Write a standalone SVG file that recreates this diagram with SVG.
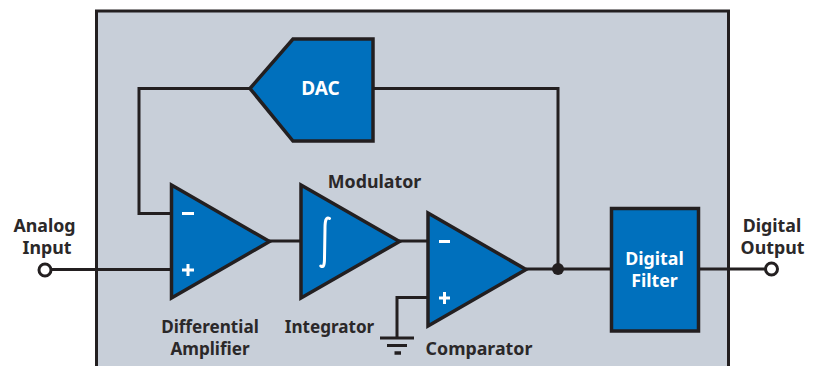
<svg xmlns="http://www.w3.org/2000/svg" width="814" height="366" viewBox="0 0 814 366">
<style>
.w{fill:none;stroke:#231f20;stroke-width:3}
.b{fill:#0070bd;stroke:#231f20;stroke-width:3.5;stroke-linejoin:miter}
.t{font-family:"Noto Sans","Open Sans",sans-serif;font-weight:700;font-size:17.800px;fill:#2b2829;text-anchor:middle}
.n{font-size:17.100px}
.l{fill:#fff}
.s{fill:none;stroke:#fff;stroke-width:3}
.o{fill:#fff;stroke:#231f20;stroke-width:3}
</style>
<rect id="panel" x="96.500" y="11" width="632" height="370" fill="#c8cfd9" stroke="#231f20" stroke-width="3"/>
<g id="connectors">
<path class="w" d="M51 269.500H171.500M171.500 213.500H139V88.500H250M373 88.500H558V269M269 241H301M399 241H428M526 269H611M699 269H765M428 297.500H397V338"/>
<path class="w" d="M380 338H414M387 345.500H407"/>
<path d="M394.500 353H401" fill="none" stroke="#231f20" stroke-width="3.500"/>
<circle cx="558" cy="269" r="6" fill="#231f20"/>
</g>
<g id="analog-input">
<circle class="o" cx="45" cy="270" r="6"/>
<text class="t" x="44.500" y="231.500">Analog</text>
<text class="t" x="47" y="253.500">Input</text>
</g>
<g id="digital-output">
<circle class="o" cx="771.500" cy="269" r="6"/>
<text class="t" x="772" y="231.500">Digital</text>
<text class="t" x="772.500" y="253.500">Output</text>
</g>
<g id="dac">
<path class="b" d="M250 88.500L293 39H373V141H293Z"/>
<text class="t l" x="320.500" y="95" style="font-size:19px">DAC</text>
</g>
<g id="differential-amplifier">
<path class="b" d="M171.500 185V298L269.500 241.500Z"/>
<path class="s" d="M182 213.500H194M182 270H194M188 264V276"/>
<text class="t n" x="210" y="333">Differential</text>
<text class="t n" x="210" y="355">Amplifier</text>
</g>
<g id="integrator">
<path class="b" d="M301 185V298L399.500 241.500Z"/>
<path d="M329.500 218.500C326 216.500 325 221 325 228L324.500 258C324.500 265 323.500 268 320.800 266" fill="none" stroke="#fff" stroke-width="3" stroke-linecap="round"/>
<text class="t n" x="329.500" y="333">Integrator</text>
<text class="t" x="374.500" y="188">Modulator</text>
</g>
<g id="comparator">
<path class="b" d="M428 213V326L526 269.500Z"/>
<path class="s" d="M439 241.500H450M439 298H450M444.500 292V304"/>
<text class="t" x="479" y="355">Comparator</text>
</g>
<g id="digital-filter">
<rect class="b" x="611.500" y="208.500" width="87" height="122.500"/>
<text class="t l" x="654.500" y="265">Digital</text>
<text class="t l" x="654.500" y="287">Filter</text>
</g>
</svg>
